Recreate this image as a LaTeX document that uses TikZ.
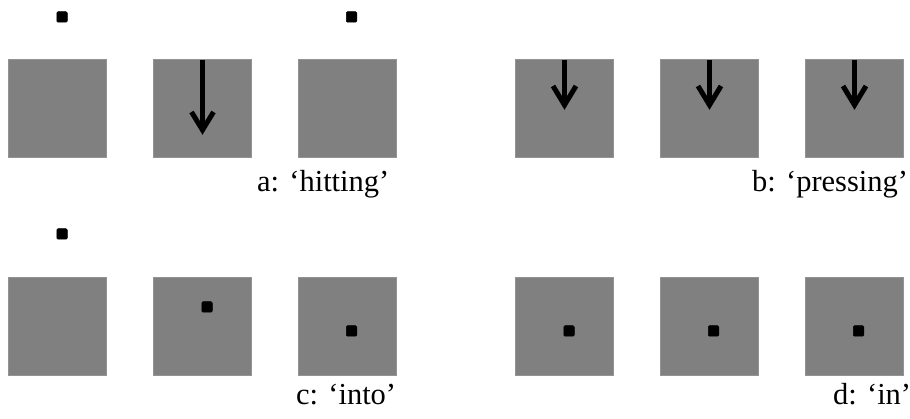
\documentclass[tikz,border=0pt]{standalone}
\usepackage{fontspec}
\setmainfont{Liberation Serif}
\begin{document}
\begin{tikzpicture}[x=1pt,y=-1pt,
  panel/.style={fill=gray50, draw=gray50!85!white, line width=0.6pt, minimum width=98pt, minimum height=98pt, inner sep=0pt, outer sep=0pt, anchor=north west},
  dotbox/.style={fill=black, draw=black, line width=0.5pt, rounded corners=1.2pt, minimum size=10.5pt, inner sep=0pt, anchor=north west},
  lbl/.style={anchor=base west, inner sep=0pt, font=\fontsize{30.5}{36}\selectfont},
  arr/.style={line width=5pt, black, line join=miter, line cap=butt}
]
\definecolor{gray50}{HTML}{808080}
\useasboundingbox (0,0) rectangle (910,419);
\fill[white] (0,0) rectangle (910,419);
% row 1 squares
\node[panel] (a1) at (8.5,59.5) {};
\node[panel] (a2) at (153.5,59.5) {};
\node[panel] (a3) at (298.5,59.5) {};
\node[panel] (b1) at (515.5,59.5) {};
\node[panel] (b2) at (660,59.5) {};
\node[panel] (b3) at (805,59.5) {};
% row 2 squares
\node[panel] (c1) at (8.5,277.5) {};
\node[panel] (c2) at (153.5,277.5) {};
\node[panel] (c3) at (298.5,277.5) {};
\node[panel] (d1) at (515.5,277.5) {};
\node[panel] (d2) at (660,277.5) {};
\node[panel] (d3) at (805,277.5) {};
% small black squares
\node[dotbox] (p1) at (56.5,11.5) {};
\node[dotbox] (p2) at (346,11.5) {};
\node[dotbox] (p3) at (56.5,228.5) {};
\node[dotbox] (p4) at (201.5,301.5) {};
\node[dotbox] (p5) at (346,325.5) {};
\node[dotbox] (p6) at (563.5,325.5) {};
\node[dotbox] (p7) at (708,325.5) {};
\node[dotbox] (p8) at (853,325.5) {};
% arrows
\draw[arr] (202.5,60) -- (202.5,130);
\draw[arr] (191.5,112) -- (202.5,130) -- (213.5,112);
\foreach \xx in {564.5,709.5,854.5}{
  \draw[arr] (\xx,60) -- (\xx,105);
  \draw[arr] (\xx-11.5,86) -- (\xx,105) -- (\xx+11.5,86);
}
% labels
\node[lbl] (la) at (257,192) {a: ‘hitting’};
\node[lbl] (lb) at (752,192) {b: ‘pressing’};
\node[lbl] (lc) at (296,404) {c: ‘into’};
\node[lbl] (ld) at (833,404) {d: ‘in’};
\end{tikzpicture}
\end{document}
